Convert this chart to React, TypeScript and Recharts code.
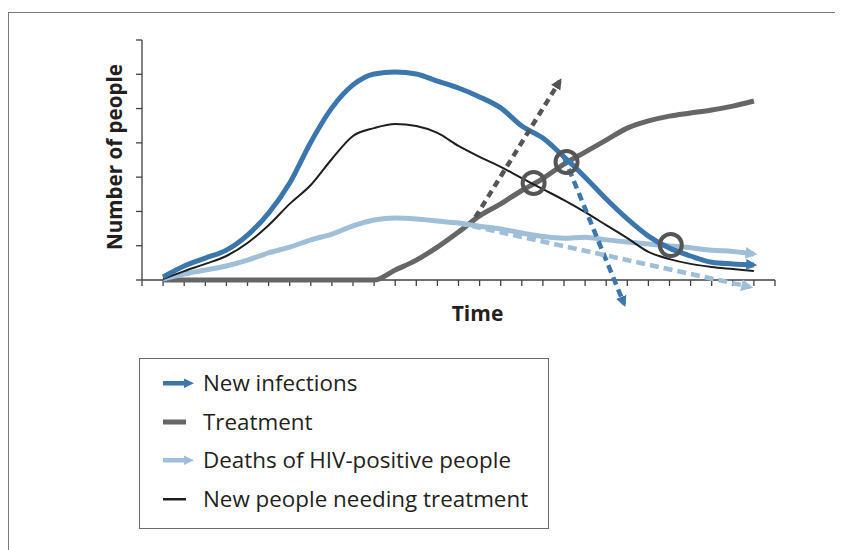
import React from 'react';
import { LineChart, Line, XAxis, YAxis, ReferenceLine, ReferenceDot, Legend } from 'recharts';

// ---------- data ----------
const timeSteps = [1, 2, 3, 4, 5, 6, 7, 8, 9, 10, 11, 12, 13, 14, 15, 16, 17, 18, 19, 20, 21, 22, 23, 24, 25, 26, 27, 28, 29];
const newInfections = [0.09, 0.41, 0.64, 0.87, 1.31, 1.95, 2.83, 4.02, 5.02, 5.69, 6.01, 6.07, 6.01, 5.8, 5.6, 5.34, 5.02, 4.49, 4.14, 3.59, 3.0, 2.36, 1.78, 1.28, 0.93, 0.7, 0.52, 0.47, 0.44];
const treatment = [0, 0, 0, 0, 0, 0, 0, 0, 0, 0, 0, 0.29, 0.58, 0.96, 1.4, 1.87, 2.22, 2.61, 2.96, 3.38, 3.73, 4.08, 4.43, 4.64, 4.78, 4.87, 4.96, 5.07, 5.22];
const deaths = [0.03, 0.17, 0.29, 0.41, 0.58, 0.79, 0.96, 1.17, 1.34, 1.58, 1.75, 1.81, 1.78, 1.72, 1.66, 1.57, 1.49, 1.37, 1.27, 1.22, 1.25, 1.17, 1.11, 1.05, 0.99, 0.94, 0.87, 0.83, 0.76];
const needingTreatment = [0.03, 0.26, 0.47, 0.7, 1.08, 1.6, 2.22, 2.77, 3.53, 4.2, 4.43, 4.55, 4.49, 4.29, 3.91, 3.59, 3.3, 2.97, 2.65, 2.33, 1.98, 1.6, 1.22, 0.82, 0.61, 0.47, 0.38, 0.32, 0.26];

// projection (dashed) arrows
const treatmentProjection = [{ x: 15.8, y: 1.83 }, { x: 19.8, y: 5.8 }];
const infectionsProjection = [{ x: 20, y: 3.59 }, { x: 22.85, y: -0.7 }];
const deathsProjection = [{ x: 15, y: 1.66 }, { x: 28.8, y: -0.2 }];

// highlighted crossings
const crossings = [{ x: 18.56, y: 2.83 }, { x: 20.12, y: 3.44 }, { x: 25.06, y: 1.02 }];

const xTicks = Array.from({ length: 31 }, (_, i) => i);
const yTicks = [0, 1, 2, 3, 4, 5, 6, 7];

const seriesNames = ['New infections', 'Treatment', 'Deaths of HIV-positive people', 'New people needing treatment'];

const data = timeSteps.map((x, i) => ({
  x,
  newInfections: newInfections[i],
  treatment: treatment[i],
  deaths: deaths[i],
  needingTreatment: needingTreatment[i],
}));

// ---------- styles ----------
const BLUE = '#3b77ad';
const GRAY = '#666666';
const LIGHT = '#9fbed8';
const BLACK = '#1e1e1e';
const AXIS = '#404040';
const TEXT = '#231f20';
const FONT = '"Open Sans", "Noto Sans", sans-serif';

const legendIcon: Record<string, { kind: 'arrow' | 'bar' | 'line'; color: string }> = {
  'New infections': { kind: 'arrow', color: BLUE },
  Treatment: { kind: 'bar', color: GRAY },
  'Deaths of HIV-positive people': { kind: 'arrow', color: LIGHT },
  'New people needing treatment': { kind: 'line', color: BLACK },
};

const Icon = ({ kind, color }: { kind: string; color: string }) => (
  <svg width={32} height={12} style={{ display: 'block' }}>
    {kind === 'arrow' && (
      <g>
        <rect x={0} y={4} width={22} height={4.5} fill={color} />
        <path d="M21,1.5 L31,6.25 L21,11 z" fill={color} />
      </g>
    )}
    {kind === 'bar' && <rect x={0} y={3.5} width={23} height={5} fill={color} />}
    {kind === 'line' && <rect x={0} y={5} width={23} height={2.5} fill={color} />}
  </svg>
);

const renderLegend = (props: any) => {
  const payload = (props.payload || [])
    .filter((p: any) => p.type !== 'none' && legendIcon[p.value])
    .slice()
    .sort((a: any, b: any) => seriesNames.indexOf(a.value) - seriesNames.indexOf(b.value));
  return (
    <div
      style={{
        width: 410,
        height: 171,
        boxSizing: 'border-box',
        border: '1px solid #6a6a6a',
        paddingTop: 5,
        paddingLeft: 23,
        fontFamily: FONT,
        fontSize: 22.4,
        color: TEXT,
        background: '#fff',
      }}
    >
      {payload.map((p: any) => (
        <div key={p.value} style={{ display: 'flex', alignItems: 'center', height: 38.6, lineHeight: '38.6px' }}>
          <div style={{ width: 40, flex: '0 0 40px' }}>
            <Icon kind={legendIcon[p.value].kind} color={legendIcon[p.value].color} />
          </div>
          <span style={{ whiteSpace: 'nowrap' }}>{p.value}</span>
        </div>
      ))}
    </div>
  );
};

const markers = [
  { id: 'arrow-blue', color: BLUE, size: 11 },
  { id: 'arrow-light', color: LIGHT, size: 12 },
  { id: 'arrow-gray', color: '#555555', size: 11 },
];

const noTick = () => null;

export default function App() {
  return (
    <div style={{ position: 'relative', width: 827, height: 542 }}>
      <style>{'html{overflow:hidden}'}</style>
      <svg width={0} height={0} style={{ position: 'absolute' }}>
        <defs>
          {markers.map((m) => (
            <marker
              key={m.id}
              id={m.id}
              viewBox="0 0 10 10"
              refX={7}
              refY={5}
              markerWidth={m.size}
              markerHeight={m.size}
              markerUnits="userSpaceOnUse"
              orient="auto"
            >
              <path d="M0,0 L10,5 L0,10 z" fill={m.color} />
            </marker>
          ))}
        </defs>
      </svg>
      <div
        style={{
          position: 'absolute',
          left: 0,
          top: 4,
          width: 835,
          height: 538,
          borderTop: '1px solid #7a7a7a',
          borderLeft: '1px solid #7a7a7a',
        }}
      />
      <div style={{ position: 'absolute', left: 0, top: 0 }}>
        <LineChart width={827} height={542} data={data} margin={{ top: 32, right: 60, left: 133, bottom: 235.71 }}>
          <XAxis type="number" dataKey="x" domain={[0, 30]} hide />
          <YAxis
            type="number"
            domain={[-1, 7]}
            ticks={yTicks}
            width={1}
            tick={noTick}
            tickSize={6}
            axisLine={false}
            tickLine={{ stroke: AXIS, strokeWidth: 1.3 }}
          />
          <ReferenceLine segment={[{ x: 0, y: 0 }, { x: 0, y: 7 }]} stroke={AXIS} strokeWidth={1.3} />
          <ReferenceLine y={0} stroke={AXIS} strokeWidth={1.3} />
          {xTicks.map((t) => (
            <ReferenceLine key={'xt' + t} segment={[{ x: t, y: 0 }, { x: t, y: -0.175 }]} stroke={AXIS} strokeWidth={1.3} />
          ))}
          <Line
            type="monotone"
            dataKey="treatment"
            name={seriesNames[1]}
            stroke={GRAY}
            strokeWidth={5}
            dot={false}
            activeDot={false}
            isAnimationActive={false}
          />
          <Line
            type="monotone"
            dataKey="deaths"
            name={seriesNames[2]}
            stroke={LIGHT}
            strokeWidth={5}
            dot={false}
            activeDot={false}
            isAnimationActive={false}
            markerEnd="url(#arrow-light)"
          />
          <Line
            type="monotone"
            dataKey="needingTreatment"
            name={seriesNames[3]}
            stroke={BLACK}
            strokeWidth={2}
            dot={false}
            activeDot={false}
            isAnimationActive={false}
          />
          <Line
            type="monotone"
            dataKey="newInfections"
            name={seriesNames[0]}
            stroke={BLUE}
            strokeWidth={5}
            dot={false}
            activeDot={false}
            isAnimationActive={false}
            markerEnd="url(#arrow-blue)"
          />
          <Line
            data={treatmentProjection}
            dataKey="y"
            type="linear"
            legendType="none"
            stroke="#555555"
            strokeWidth={4.5}
            strokeDasharray="7 5"
            dot={false}
            activeDot={false}
            isAnimationActive={false}
            markerEnd="url(#arrow-gray)"
          />
          <Line
            data={infectionsProjection}
            dataKey="y"
            type="linear"
            legendType="none"
            stroke={BLUE}
            strokeWidth={4.5}
            strokeDasharray="8 5"
            dot={false}
            activeDot={false}
            isAnimationActive={false}
            markerEnd="url(#arrow-blue)"
          />
          <Line
            data={deathsProjection}
            dataKey="y"
            type="linear"
            legendType="none"
            stroke={LIGHT}
            strokeWidth={4.5}
            strokeDasharray="9 5"
            dot={false}
            activeDot={false}
            isAnimationActive={false}
            markerEnd="url(#arrow-light)"
          />
          {crossings.map((c, i) => (
            <ReferenceDot key={'c' + i} x={c.x} y={c.y} r={11} fill="none" stroke="#555555" strokeWidth={4} />
          ))}
          <Legend
            layout="vertical"
            align="center"
            verticalAlign="middle"
            content={renderLegend}
            wrapperStyle={{ left: 131, top: 350, width: 410 }}
          />
        </LineChart>
      </div>
      <div
        style={{
          position: 'absolute',
          left: 106,
          top: 148.5,
          transform: 'translate(-50%, -50%) rotate(-90deg)',
          whiteSpace: 'nowrap',
          fontFamily: FONT,
          fontWeight: 700,
          fontSize: 20.6,
          lineHeight: 1,
          color: TEXT,
        }}
      >
        Number of people
      </div>
      <div
        style={{
          position: 'absolute',
          left: 469.5,
          top: 295,
          transform: 'translateX(-50%)',
          whiteSpace: 'nowrap',
          fontFamily: FONT,
          fontWeight: 700,
          fontSize: 21,
          lineHeight: 1,
          color: TEXT,
        }}
      >
        Time
      </div>
    </div>
  );
}
